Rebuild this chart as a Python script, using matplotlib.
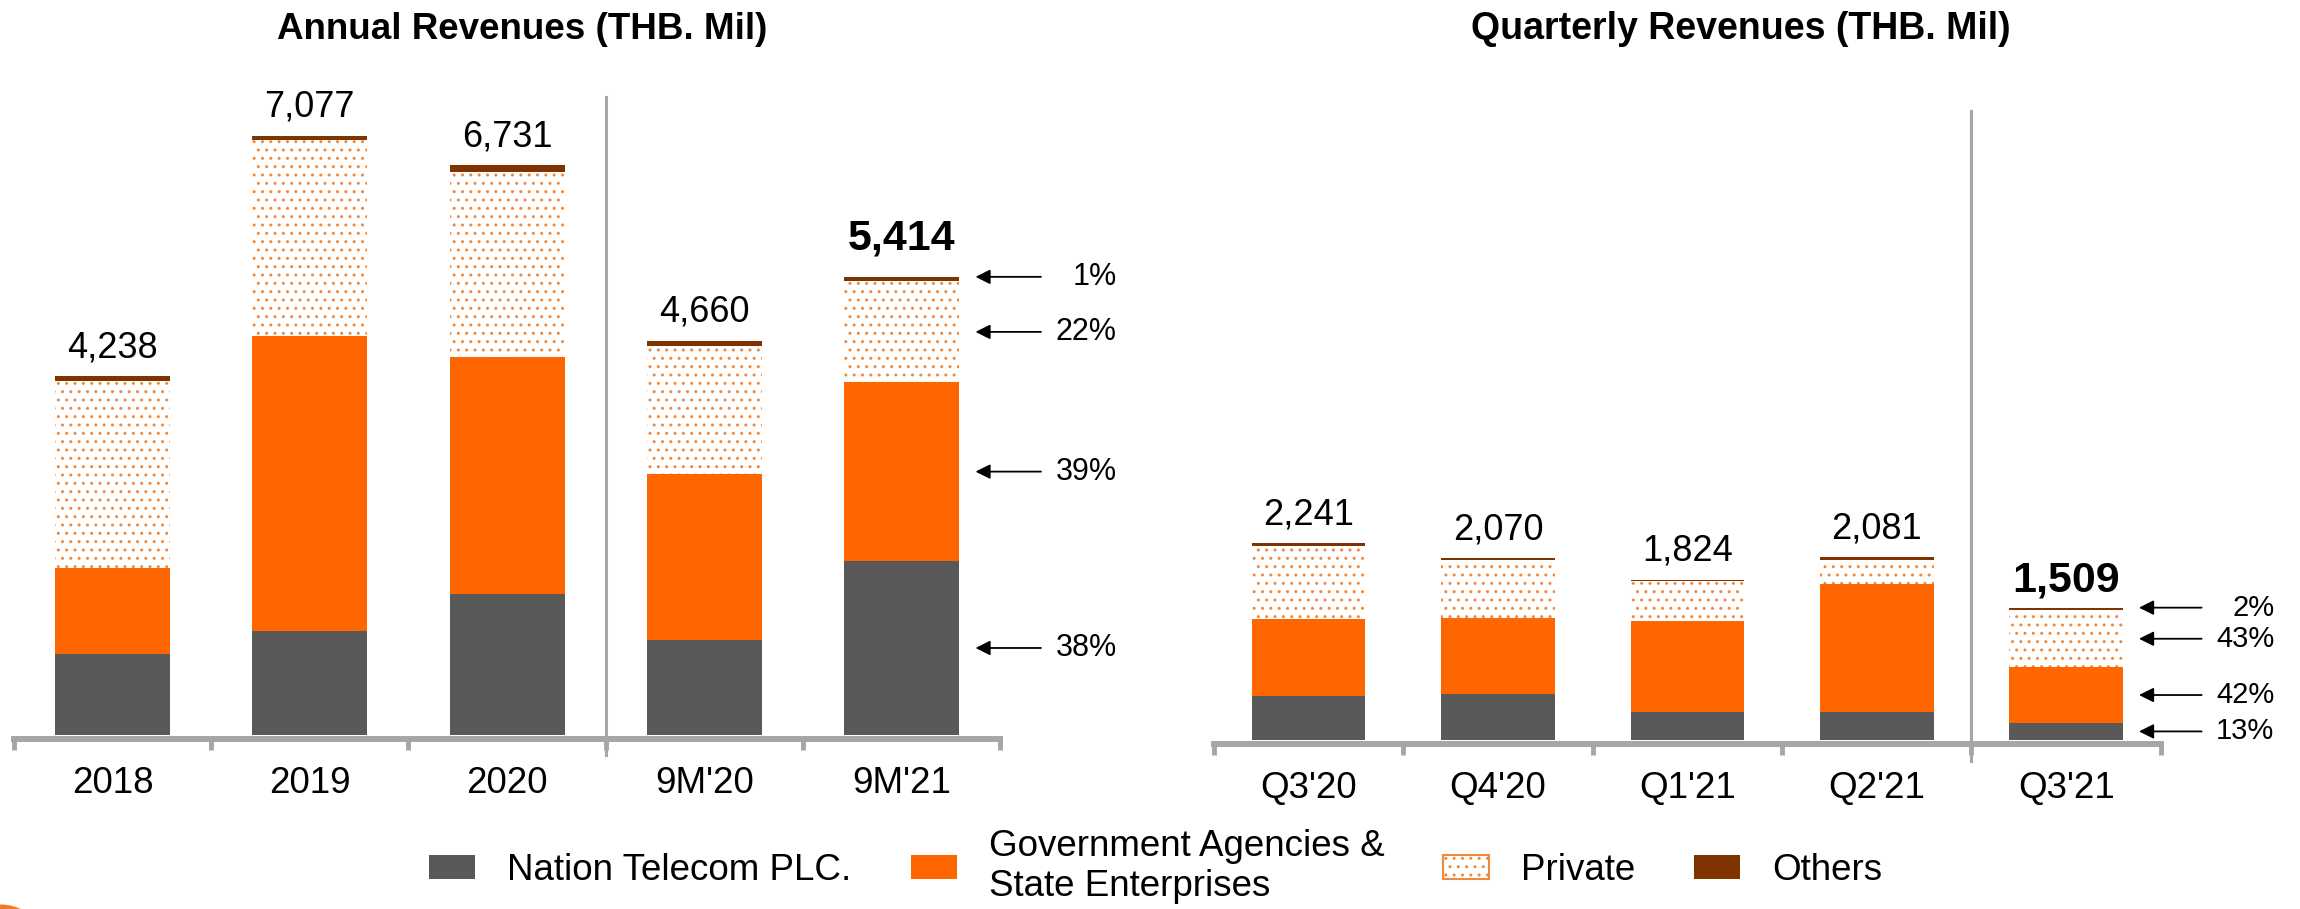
import matplotlib
matplotlib.use('Agg')
import matplotlib.pyplot as plt
import numpy as np
from matplotlib.patches import Patch, Ellipse

plt.rcParams['font.family'] = ['Liberation Sans', 'DejaVu Sans']
plt.rcParams['hatch.linewidth'] = 1.0

# annual revenues (THB. Mil), stacked bottom to top
annual_labels = ['2018', '2019', '2020', "9M'20", "9M'21"]
annual_nt = [960, 1233, 1664, 1117, 2057]
annual_gov = [1015, 3480, 2800, 1967, 2111]
annual_private = [2208, 2316, 2191, 1515, 1191]
annual_others = [55, 48, 76, 61, 55]
annual_totals = [4238, 7077, 6731, 4660, 5414]
annual_shares = ['38%', '39%', '22%', '1%']

# quarterly revenues (THB. Mil)
quarter_labels = ["Q3'20", "Q4'20", "Q1'21", "Q2'21", "Q3'21"]
quarter_nt = [505, 520, 323, 323, 196]
quarter_gov = [874, 874, 1033, 1458, 634]
quarter_private = [836, 657, 452, 273, 649]
quarter_others = [26, 19, 16, 27, 30]
quarter_totals = [2241, 2070, 1824, 2081, 1509]
quarter_shares = ['13%', '42%', '43%', '2%']

series_names = ['Nation Telecom PLC.', 'Government Agencies &\nState Enterprises', 'Private', 'Others']

GRAY = '#595959'
ORANGE = '#FF6600'
DOTS = '#EE8A3E'
BROWN = '#7F3300'
AXIS = '#A6A6A6'


def draw_panel(ax, labels, series, totals, shares, width, split, sep_top, pct_size, bold_off):
    x = np.arange(len(labels))
    bottom = np.zeros(len(labels))
    mids = []
    for i, vals in enumerate(series):
        vals = np.array(vals, dtype=float)
        if i == 2:
            ax.bar(x, vals, width, bottom=bottom, facecolor='white', edgecolor=DOTS,
                   hatch='..', linewidth=0)
        else:
            ax.bar(x, vals, width, bottom=bottom, color=[GRAY, ORANGE, None, BROWN][i],
                   linewidth=0)
        mids.append(bottom[-1] + vals[-1] / 2)
        bottom = bottom + vals

    # value labels on top, latest one in bold
    for i, t in enumerate(totals):
        last = i == len(totals) - 1
        ax.annotate(f'{t:,}', (x[i], bottom[i]), xytext=(0, bold_off if last else 8),
                    textcoords='offset points', ha='center', va='bottom',
                    fontsize=31 if last else 26, fontweight='bold' if last else 'normal')

    # share arrows for the latest bar
    arrow_y = mids[:3] + [bottom[-1]]
    xl = x[-1] + width / 2
    for y, s in zip(arrow_y, shares):
        ax.annotate('', xy=(xl + 0.07, y), xytext=(xl + 0.43, y),
                    arrowprops=dict(arrowstyle='-|>', color='black', lw=1.3, mutation_scale=22),
                    annotation_clip=False)
        ax.text(xl + 0.8, y, s, ha='right', va='center', fontsize=pct_size, clip_on=False)

    ax.set_xlim(-0.5, len(labels) - 0.5)
    ax.set_ylim(0, 8000)
    ax.set_yticks([])
    for sp in ['top', 'right', 'left']:
        ax.spines[sp].set_visible(False)
    ax.spines['bottom'].set_color(AXIS)
    ax.spines['bottom'].set_linewidth(4.3)
    ax.spines['bottom'].set_position(('outward', 3))
    ax.set_xticks(x)
    ax.set_xticklabels(labels, fontsize=26.5)
    ax.set_xticks(np.arange(len(labels) + 1) - 0.5, minor=True)
    ax.tick_params(axis='x', which='major', length=0, pad=19)
    ax.tick_params(axis='x', which='minor', length=8, width=3.5, color=AXIS, direction='out')
    ax.axvline(split - 0.5, ymin=-0.03, ymax=sep_top / 8000, color=AXIS, lw=2.2, clip_on=False)


fig = plt.figure(figsize=(23, 9.09), dpi=100)
ax1 = fig.add_axes([0.0061, 0.1914, 0.4287, 0.7448])
ax2 = fig.add_axes([0.5278, 0.1859, 0.4117, 0.772])

draw_panel(ax1, annual_labels, [annual_nt, annual_gov, annual_private, annual_others],
           annual_totals, annual_shares, 0.583, 3, 7540, 22, 13)
draw_panel(ax2, quarter_labels, [quarter_nt, quarter_gov, quarter_private, quarter_others],
           quarter_totals, quarter_shares, 0.6, 4, 7170, 21, 5)

fig.text(0.227, 0.968, 'Annual Revenues (THB. Mil)', ha='center', va='center',
         fontsize=26.5, fontweight='bold')
fig.text(0.757, 0.968, 'Quarterly Revenues (THB. Mil)', ha='center', va='center',
         fontsize=27, fontweight='bold')

handles = [Patch(facecolor=GRAY, linewidth=0),
           Patch(facecolor=ORANGE, linewidth=0),
           Patch(facecolor='white', edgecolor=DOTS, hatch='..', linewidth=1.5),
           Patch(facecolor=BROWN, linewidth=0)]
fig.legend(handles, series_names, loc='center', bbox_to_anchor=(0.5026, 0.047), ncol=4,
           frameon=False, fontsize=26.5, handlelength=1.25, handleheight=0.65,
           handletextpad=0.87, columnspacing=1.6)

# slide decoration in the bottom-left corner
fig.patches.append(Ellipse((0.0, -0.02), 0.03, 0.05, transform=fig.transFigure,
                           facecolor='#F47A2A', edgecolor='none'))

fig.savefig('out.png', dpi=100)
